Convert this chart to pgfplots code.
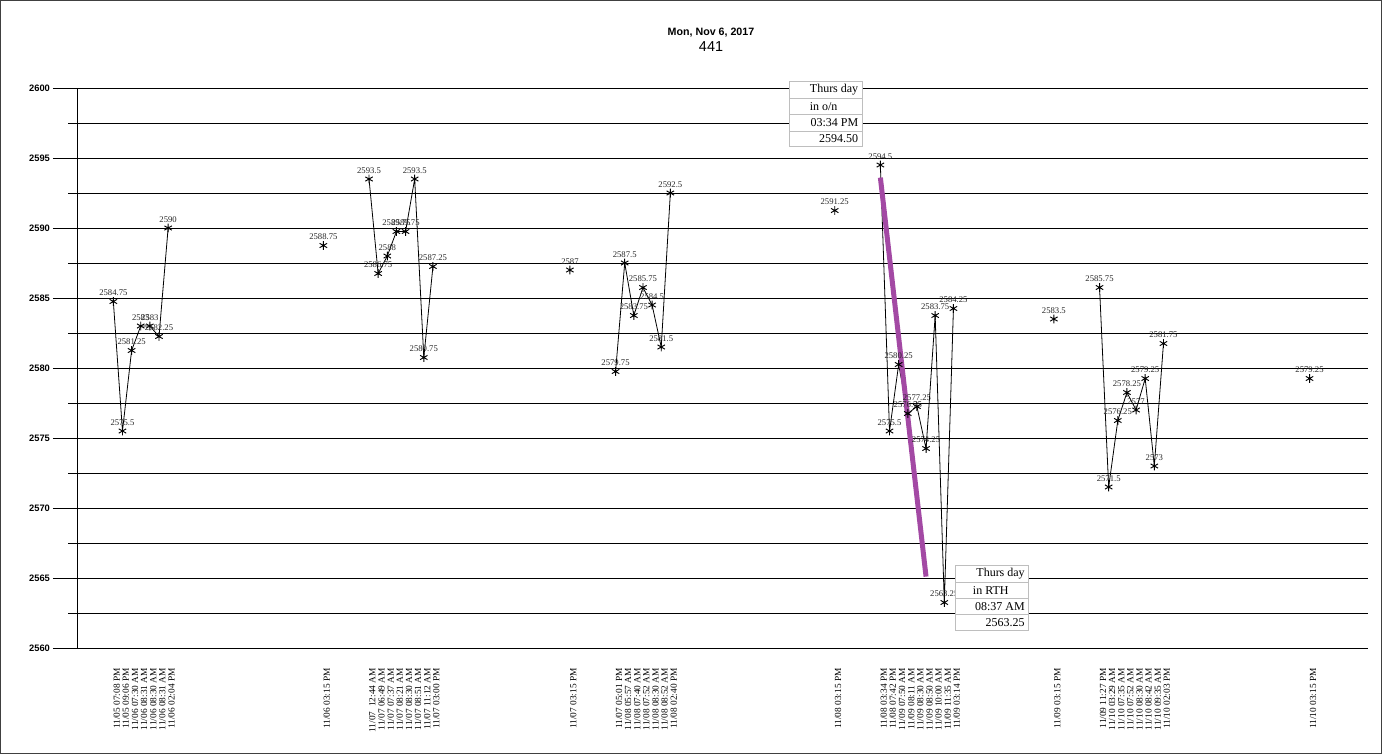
\documentclass[border=0pt]{standalone}
\usepackage{fontspec}
\setmainfont{Liberation Serif}
\newfontfamily\arial{Liberation Sans}
\usepackage{pgfplots}
\pgfplotsset{compat=1.18}
\usepackage{pgfplotstable}
\definecolor{hl}{RGB}{163,73,164}
\definecolor{boxgray}{RGB}{190,190,190}

\pgfplotstableread{
x y
0 2584.75
1 2575.5
2 2581.25
3 2583
4 2583
5 2582.25
6 2590
}\grpA
\pgfplotstableread{
x y
28 2593.5
29 2586.75
30 2588
31 2589.75
32 2589.75
33 2593.5
34 2580.75
35 2587.25
}\grpB
\pgfplotstableread{
x y
55 2579.75
56 2587.5
57 2583.75
58 2585.75
59 2584.5
60 2581.5
61 2592.5
}\grpC
\pgfplotstableread{
x y
84 2594.5
85 2575.5
86 2580.25
87 2576.75
88 2577.25
89 2574.25
90 2583.75
91 2563.25
92 2584.25
}\grpD
\pgfplotstableread{
x y
108 2585.75
109 2571.5
110 2576.25
111 2578.25
112 2577
113 2579.25
114 2573
115 2581.75
}\grpE
\pgfplotstableread{
x y
23 2588.75
50 2587
79 2591.25
103 2583.5
131 2579.25
}\close

\begin{document}
\begin{tikzpicture}
\path[use as bounding box] (0,0) rectangle (1036.5pt,-565.5pt);
\begin{axis}[
  at={(57.75pt,-486pt)}, anchor=south west,
  width=968.25pt, height=420pt, scale only axis,
  xmin=-3.98, xmax=137.4, ymin=2560, ymax=2600,
  axis lines=left, axis line style={-, black, line width=0.75pt},
  clip=false,
  ytick={2560,2565,...,2600},
  minor ytick={2562.5,2567.5,...,2597.5},
  ymajorgrids, yminorgrids,
  major grid style={black, line width=0.75pt},
  minor grid style={black, line width=0.75pt},
  tick align=outside,
  major tick length=18pt, minor tick length=6.75pt,
  ytick style={black, line width=0.75pt},
  scaled y ticks=false,
  yticklabel style={font=\arial\bfseries\fontsize{7}{8}\selectfont, /pgf/number format/1000 sep={}, /pgf/number format/fixed, xshift=1.2pt},
  /pgf/number format/assume math mode=true,
  xtick={0,1,2,3,4,5,6,23,28,29,30,31,32,33,34,35,50,55,56,57,58,59,60,61,79,84,85,86,87,88,89,90,91,92,103,108,109,110,111,112,113,114,115,131},
  xticklabels={11/05 07:08 PM,11/05 09:06 PM,11/06 07:30 AM,11/06 08:31 AM,11/06 08:30 AM,11/06 08:31 AM,11/06 02:04 PM,
    11/06 03:15 PM,
    11/07\ \ 12:44 AM,11/07 06:49 AM,11/07 07:37 AM,11/07 08:21 AM,11/07 08:30 AM,11/07 08:51 AM,11/07 11:12 AM,11/07 03:00 PM,
    11/07 03:15 PM,
    11/07 05:01 PM,11/08 05:57 AM,11/08 07:40 AM,11/08 07:52 AM,11/08 08:30 AM,11/08 08:52 AM,11/08 02:40 PM,
    11/08 03:15 PM,
    11/08 03:34 PM,11/08 07:42 PM,11/09 07:50 AM,11/09 08:11 AM,11/09 08:30 AM,11/09 08:50 AM,11/09 10:00 AM,11/09 11:35 AM,11/09 03:14 PM,
    11/09 03:15 PM,
    11/09 11:27 PM,11/10 03:29 AM,11/10 07:35 AM,11/10 07:52 AM,11/10 08:30 AM,11/10 08:42 AM,11/10 09:35 AM,11/10 02:03 PM,
    11/10 03:15 PM},
  xtick style={draw=none},
  xticklabel shift=-3pt,
  xticklabel style={rotate=90, anchor=north east, inner sep=0pt, font=\fontsize{7}{8}\selectfont},
  every node near coord/.style={font=\fontsize{6.5}{7}\selectfont, inner sep=0pt, anchor=south, yshift=3.8pt, text=black!85},
  series/.style={black, line width=0.6pt, mark=asterisk, mark size=3.2pt, mark options={line width=0.7pt, solid}, nodes near coords, point meta=explicit symbolic},
]
\addplot[series] table[x=x,y=y,meta=y] {\grpA};
\addplot[series] table[x=x,y=y,meta=y] {\grpB};
\addplot[series] table[x=x,y=y,meta=y] {\grpC};
\addplot[series] table[x=x,y=y,meta=y] {\grpD};
\addplot[series] table[x=x,y=y,meta=y] {\grpE};
\addplot[series, only marks] table[x=x,y=y,meta=y] {\close};
\addplot[hl, line width=3.75pt, no marks] coordinates {(84,2593.6) (89,2565.1)};
\end{axis}
\begin{scope}[x=0.75pt,y=-0.75pt]
  \draw[line width=0.75pt, black!75] (0.5,0.5) rectangle (1381.5,753.5);
  \node[font=\arial\bfseries\fontsize{8}{9}\selectfont, inner sep=0pt] at (711,32.5) {Mon, Nov 6, 2017};
  \node[font=\arial\fontsize{10.8}{12}\selectfont, inner sep=0pt] at (711,46.5) {441};
  % box 1
  \draw[boxgray, fill=white, line width=0.75pt] (789.3,81.7) rectangle (862.3,146.3);
  \draw[boxgray, line width=0.75pt] (789.3,98) -- (862.3,98) (789.3,114.7) -- (862.3,114.7) (789.3,131.3) -- (862.3,131.3);
  \begin{scope}[every node/.style={font=\fontsize{9}{10}\selectfont, inner sep=0pt}]
  \node[anchor=east] at (858.5,89.8) {Thurs day};
  \node[anchor=west] at (809.5,106.3) {in o/n};
  \node[anchor=east] at (858.5,123) {03:34 PM};
  \node[anchor=east] at (858.5,138.8) {2594.50};
  \end{scope}
  % box 2
  \draw[boxgray, fill=white, line width=0.75pt] (955.7,565.3) rectangle (1028.7,630);
  \draw[boxgray, line width=0.75pt] (955.7,582) -- (1028.7,582) (955.7,598.7) -- (1028.7,598.7) (955.7,614.3) -- (1028.7,614.3);
  \begin{scope}[every node/.style={font=\fontsize{9}{10}\selectfont, inner sep=0pt}]
  \node[anchor=east] at (1025,573.6) {Thurs day};
  \node[anchor=west] at (972.7,590.3) {in RTH};
  \node[anchor=east] at (1025,606.5) {08:37 AM};
  \node[anchor=east] at (1025,622.2) {2563.25};
  \end{scope}
\end{scope}
\end{tikzpicture}
\end{document}
